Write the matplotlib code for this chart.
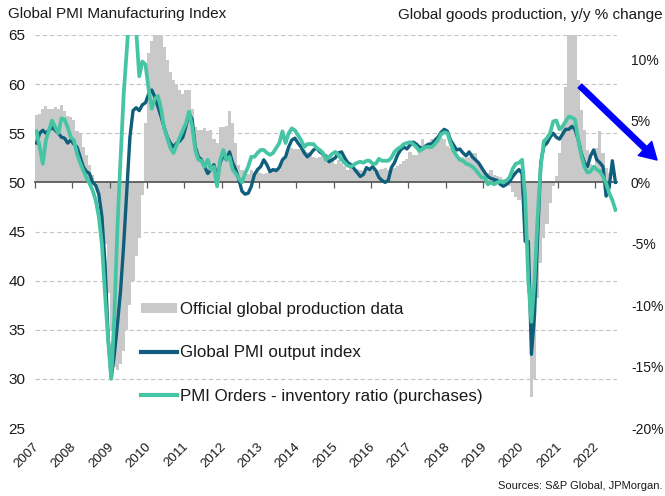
import numpy as np
import matplotlib
matplotlib.use("Agg")
import matplotlib.pyplot as plt
import matplotlib.transforms as mtransforms
from matplotlib.patches import Patch, FancyArrowPatch
from matplotlib.lines import Line2D
from matplotlib.ticker import FixedLocator

plt.rcParams["font.family"] = ["Liberation Sans", "DejaVu Sans"]

# ── Data: monthly, starting Jan 2007 ─────────────────────────────────────────
YEARS = [2007, 2008, 2009, 2010, 2011, 2012, 2013, 2014,
         2015, 2016, 2017, 2018, 2019, 2020, 2021, 2022]
LEFT_TICKS = [25, 30, 35, 40, 45, 50, 55, 60, 65]
RIGHT_TICKS = [-20, -15, -10, -5, 0, 5, 10]

# Global PMI output index (left axis)
pmi_output = [
    54.0, 55.0, 55.3, 55.0, 55.3, 55.6, 55.3, 55.0, 54.6, 54.5, 54.0, 54.3,  # 2007
    53.9, 53.6, 52.6, 51.6, 51.1, 50.9, 50.0, 49.7, 48.8, 46.5, 41.7, 34.2,  # 2008
    30.1, 32.5, 35.6, 39.0, 43.7, 49.2, 54.6, 57.3, 57.6, 57.3, 57.9, 58.1,  # 2009
    59.0, 59.4, 58.7, 57.7, 56.7, 55.6, 54.6, 54.0, 53.6, 54.0, 54.2, 54.6,  # 2010
    55.7, 57.0, 56.4, 53.6, 52.6, 52.3, 51.6, 50.9, 51.3, 51.8, 50.3, 52.0,  # 2011
    52.8, 52.3, 53.1, 52.0, 51.3, 50.3, 49.1, 48.8, 48.9, 49.6, 50.8, 51.3,  # 2012
    51.6, 52.3, 51.8, 51.1, 51.3, 51.2, 51.5, 52.3, 52.6, 53.6, 54.3, 54.5,  # 2013
    54.0, 53.6, 53.0, 52.6, 52.9, 53.3, 53.5, 53.1, 52.9, 52.6, 52.1, 52.3,  # 2014
    52.5, 53.0, 53.1, 52.5, 52.0, 51.8, 51.4, 51.0, 50.6, 50.8, 51.5, 51.3,  # 2015
    51.6, 51.2, 50.5, 50.2, 50.0, 50.2, 51.5, 52.0, 52.8, 53.3, 53.6, 53.4,  # 2016
    53.8, 54.1, 53.9, 53.6, 53.4, 53.7, 53.9, 53.9, 54.3, 54.6, 55.1, 55.4,  # 2017
    55.2, 54.3, 53.8, 53.3, 53.4, 53.0, 52.7, 53.1, 52.6, 52.3, 52.0, 51.5,  # 2018
    51.0, 50.6, 50.4, 50.3, 50.2, 49.8, 49.6, 49.8, 50.1, 50.6, 51.0, 51.3,  # 2019
    50.9, 44.0, 44.0, 32.5, 36.5, 44.5, 52.0, 53.7, 54.0, 54.6, 55.0, 54.6,  # 2020
    54.4, 54.9, 55.4, 55.4, 55.7, 55.4, 54.4, 53.0, 52.0, 51.6, 52.7, 53.3,  # 2021
    52.3, 52.0, 51.6, 48.6, 49.5, 52.2, 50.0,                                # 2022
]

# PMI orders - inventory ratio (purchases), left axis
orders_inventory = [
    55.2, 53.6, 51.9, 54.3, 55.3, 56.3, 55.6, 55.0, 56.5, 56.4, 55.6, 54.6,  # 2007
    54.3, 52.9, 52.0, 51.2, 50.5, 49.9, 49.2, 48.2, 46.5, 43.7, 38.6, 33.9,  # 2008
    30.0, 36.5, 45.5, 52.5, 59.0, 63.5, 68.0, 70.0, 65.5, 60.8, 62.3, 62.0,  # 2009
    59.5, 57.5, 58.5, 58.8, 57.5, 55.5, 54.5, 53.5, 53.0, 53.8, 54.6, 55.3,  # 2010
    56.0, 57.2, 55.7, 53.3, 52.3, 52.2, 51.6, 52.3, 51.3, 51.6, 49.6, 52.3,  # 2011
    53.3, 52.3, 52.6, 51.3, 50.9, 50.4, 50.0, 50.9, 51.6, 52.6, 52.6, 53.0,  # 2012
    53.3, 53.3, 53.0, 52.8, 53.0, 53.5, 54.0, 55.2, 54.0, 55.0, 55.5, 55.3,  # 2013
    54.8, 54.3, 53.6, 53.9, 53.9, 53.9, 53.5, 53.3, 53.0, 52.3, 52.6, 52.9,  # 2014
    53.1, 52.8, 52.3, 52.0, 51.7, 51.6, 51.8, 52.0, 52.1, 52.0, 52.2, 52.2,  # 2015
    51.9, 51.9, 52.4, 52.2, 52.2, 52.2, 52.5, 53.1, 53.4, 53.6, 53.9, 54.0,  # 2016
    54.1, 53.9, 53.6, 53.2, 53.4, 53.6, 53.6, 53.6, 53.9, 54.3, 54.9, 55.1,  # 2017
    55.0, 54.0, 53.2, 52.7, 52.3, 52.2, 51.9, 51.8, 51.6, 51.3, 50.9, 50.5,  # 2018
    50.5, 49.8, 50.0, 49.8, 50.0, 50.1, 50.0, 50.2, 50.5, 51.4, 51.9, 52.0,  # 2019
    52.3, 48.5, 40.0, 35.8, 40.0, 46.5, 51.6, 54.2, 54.5, 55.0, 56.2, 56.3,  # 2020
    55.4, 55.7, 56.2, 56.7, 56.6, 56.4, 54.4, 52.8, 51.6, 51.0, 51.1, 51.6,  # 2021
    51.3, 51.1, 50.6, 49.9, 48.9, 48.2, 47.2,                                # 2022
]

# Official global goods production, y/y % (right axis)
official_prod = [
    5.5, 5.6, 6.0, 6.2, 6.0, 6.0, 6.1, 6.0, 6.3, 5.8, 5.4, 5.3,              # 2007
    5.1, 4.2, 3.9, 2.9, 2.2, 1.4, 0.6, 0.0, -1.0, -2.5, -5.0, -9.0,          # 2008
    -12.0, -15.0, -15.3, -14.8, -13.7, -12.0, -10.0, -8.0, -6.0, -4.5, -1.0, 4.8,  # 2009
    10.5, 11.5, 13.0, 13.0, 12.5, 11.0, 10.0, 9.0, 8.3, 8.0, 7.5, 7.2,       # 2010
    7.5, 7.5, 6.0, 4.5, 4.3, 4.3, 4.4, 4.2, 4.3, 3.5, 3.2, 4.5,              # 2011
    4.5, 4.6, 5.8, 4.8, 3.2, 1.4, 1.0, 0.8, 0.7, 1.0, 0.8, 1.0,              # 2012
    0.8, 0.7, 0.8, 1.0, 1.1, 1.2, 1.0, 1.8, 2.0, 2.6, 2.8, 2.7,              # 2013
    2.7, 2.8, 2.6, 2.5, 2.2, 2.1, 2.0, 2.1, 2.2, 2.3, 2.0, 2.1,              # 2014
    1.5, 1.8, 1.6, 1.3, 1.0, 1.2, 1.0, 1.1, 1.0, 0.9, 1.0, 0.9,              # 2015
    1.0, 0.8, 1.0, 1.1, 1.2, 1.0, 1.3, 1.2, 1.3, 1.5, 1.7, 1.9,              # 2016
    2.5, 2.2, 2.2, 2.8, 3.5, 3.0, 3.2, 3.5, 3.3, 3.4, 3.6, 3.5,              # 2017
    3.0, 2.8, 2.5, 2.2, 2.1, 2.1, 2.0, 2.1, 2.4, 2.4, 1.6, 1.3,              # 2018
    1.0, 0.8, 1.0, 0.6, 0.5, 0.4, 0.3, 0.2, -0.3, -0.8, -1.2, -1.4,          # 2019
    -1.0, -4.0, -9.0, -17.5, -16.0, -9.4, -6.6, -4.5, -3.4, -1.7, -0.3, 0.5, # 2020
    2.4, 4.5, 7.8, 13.0, 13.5, 13.0, 8.3, 5.9, 4.3, 2.6, 1.5, 1.2,           # 2021
    2.8, 4.2, 2.4, 1.2, 0.8,                                                 # 2022
]

# ── Style ────────────────────────────────────────────────────────────────────
GRAY = "#C9C9C9"
DARK = "#0E5E7C"
LIGHT = "#46C5A5"
TXT = "#1A1A1A"
AXIS = "#5A5A5A"

# left index 50 <-> 0 %, 25 <-> -20 %  (1 % point = 1.25 index points)
def to_pct(v):
    return (v - 50) / 1.25

fig = plt.figure(figsize=(6.65, 4.96), dpi=100)
ax_bar = fig.add_axes([35 / 665, 1 - 428 / 496, 582 / 665, 393 / 496])
ax = ax_bar.twinx()

# ── Bars: official production (right axis) ──────────────────────────────────
m_bar = np.arange(len(official_prod))
ax_bar.bar(m_bar, official_prod, width=1.0, align="edge",
           color=GRAY, linewidth=0, zorder=2)
ax_bar.set_ylim(to_pct(LEFT_TICKS[0]), to_pct(LEFT_TICKS[-1]))
ax_bar.yaxis.tick_right()
ax_bar.set_yticks(RIGHT_TICKS)
ax_bar.set_yticklabels([f"{t}%" for t in RIGHT_TICKS])
ax_bar.tick_params(axis="y", length=0, pad=10, labelsize=10, labelcolor=TXT)

# grid lines follow the left-hand index ticks
ax_bar.yaxis.set_minor_locator(FixedLocator([to_pct(v) for v in LEFT_TICKS if v != 50]))
ax_bar.tick_params(axis="y", which="minor", length=0)
ax_bar.grid(True, axis="y", which="minor", color="#C4C4C4", lw=0.8,
            ls=(0, (4, 2.5)), zorder=0)
ax_bar.set_axisbelow(True)

# ── Lines: PMI series (left axis) ───────────────────────────────────────────
m_line = np.arange(len(pmi_output)) + 0.5
ax.plot(m_line, pmi_output, color=DARK, lw=2.4, solid_joinstyle="round", zorder=3)
ax.plot(m_line, orders_inventory, color=LIGHT, lw=2.7, solid_joinstyle="round", zorder=4)
ax.set_ylim(LEFT_TICKS[0], LEFT_TICKS[-1])
ax.yaxis.tick_left()
ax.set_yticks(LEFT_TICKS)
ax.tick_params(axis="y", length=0, pad=7, labelsize=11, labelcolor=TXT)

# ── X axis: years ────────────────────────────────────────────────────────────
year_pos = [12 * i for i in range(len(YEARS))]
ax_bar.set_xlim(0, 187)
ax_bar.set_xticks(year_pos)
ax_bar.set_xticklabels([str(y) for y in YEARS], rotation=45, ha="right",
                       va="center", rotation_mode="anchor")
ax_bar.tick_params(axis="x", length=0, pad=12, labelsize=9.5, labelcolor=TXT)
shift = mtransforms.ScaledTranslation(2 / 100, 0, fig.dpi_scale_trans)
for lbl in ax_bar.get_xticklabels():
    lbl.set_transform(lbl.get_transform() + shift)

# zero line with year ticks at the 50 level
sec = ax.secondary_xaxis(50, transform=ax.transData)
sec.set_alignment("bottom")
sec.set_xticks(year_pos)
sec.set_xticklabels([])
sec.tick_params(axis="x", direction="out", length=4, width=0.9, color=AXIS)
sec.spines["bottom"].set_color(AXIS)
sec.spines["bottom"].set_linewidth(1.3)

for a in (ax, ax_bar):
    for s in a.spines.values():
        s.set_visible(False)

# ── Legend ───────────────────────────────────────────────────────────────────
handles = [
    Patch(facecolor=GRAY, edgecolor="none"),
    Line2D([], [], color=DARK, lw=3.0),
    Line2D([], [], color=LIGHT, lw=3.0),
]
labels = [
    "Official global production data",
    "Global PMI output index",
    "PMI Orders - inventory ratio (purchases)",
]
ax.legend(handles, labels, loc="upper left",
          bbox_to_anchor=(141 / 665, 1 - 302 / 496), bbox_transform=fig.transFigure,
          frameon=False, fontsize=12.2, handlelength=2.1, handleheight=0.6,
          handletextpad=0.2, labelspacing=1.68, borderpad=0, borderaxespad=0,
          labelcolor=TXT)

# ── Titles, source, arrow ────────────────────────────────────────────────────
fig.text(8 / 665, 1 - 14 / 496, "Global PMI Manufacturing Index",
         fontsize=11, color=TXT, va="center", ha="left")
fig.text(663 / 665, 1 - 15 / 496, "Global goods production, y/y % change",
         fontsize=11, color=TXT, va="center", ha="right")
fig.text(663 / 665, 1 - 486 / 496, "Sources: S&P Global, JPMorgan.",
         fontsize=8, color=TXT, va="center", ha="right")

arrow = FancyArrowPatch((580 / 665, 1 - 86 / 496), (657 / 665, 1 - 160 / 496),
                        transform=fig.transFigure,
                        arrowstyle="simple,head_length=1.2,head_width=1.4,tail_width=0.38",
                        mutation_scale=10, color="#0000FF", shrinkA=0, shrinkB=0)
fig.patches.append(arrow)

fig.savefig("out.png", dpi=100)
